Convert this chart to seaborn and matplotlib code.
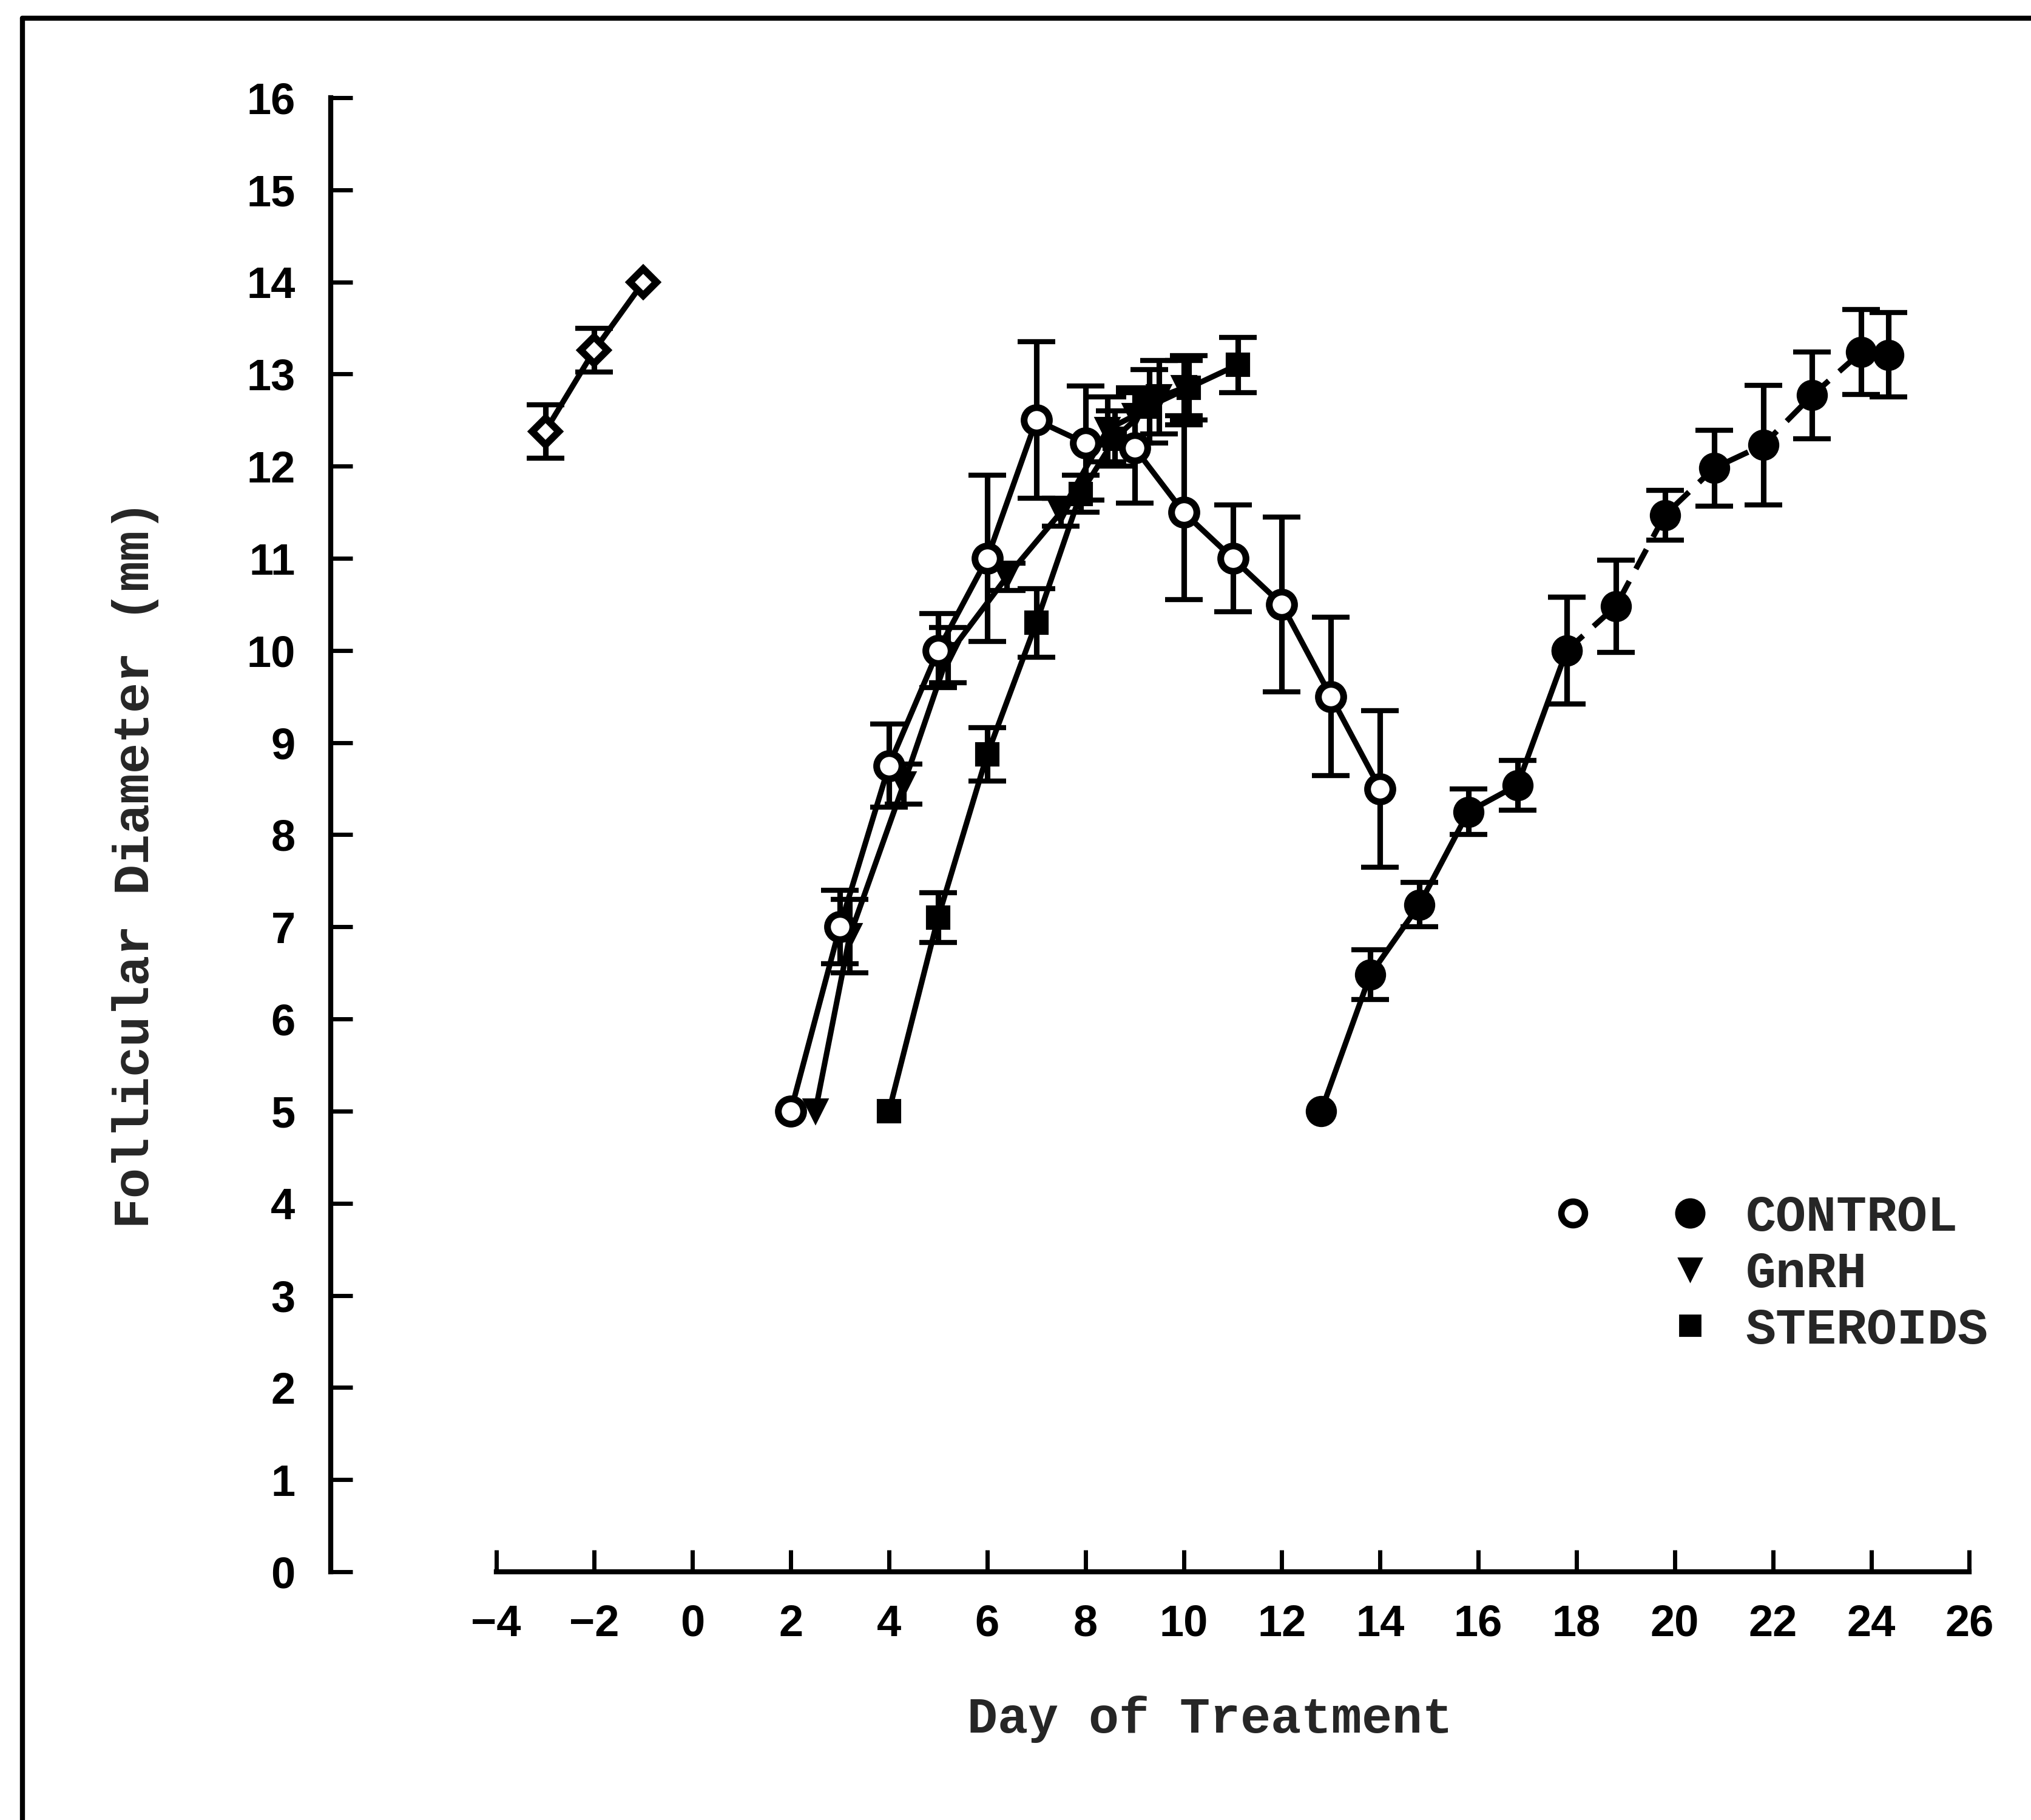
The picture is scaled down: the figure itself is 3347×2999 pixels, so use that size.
import numpy as np
import pandas as pd
import matplotlib
matplotlib.use("Agg")
import matplotlib.pyplot as plt
import seaborn as sns
from matplotlib.lines import Line2D
from matplotlib.legend_handler import HandlerTuple

# --- data (day of treatment, follicle diameter mm, +/- error) ---
pre_day = [-3, -2, -1]
pre_mm = [12.38, 13.26, 14.0]
pre_err = [0.29, 0.24, 0.0]

ctrl1_day = [2, 3, 4, 5, 6, 7, 8, 9, 10, 11, 12, 13, 14]
ctrl1_mm = [5.0, 7.0, 8.75, 10.0, 11.0, 12.5, 12.25, 12.2, 11.5, 11.0, 10.5, 9.5, 8.5]
ctrl1_err = [0.0, 0.4, 0.45, 0.4, 0.9, 0.85, 0.62, 0.6, 0.95, 0.58, 0.95, 0.86, 0.85]

gnrh_day = [2.5, 3.2, 4.3, 5.2, 6.4, 7.5, 8.45, 9.0, 9.5, 10.0]
gnrh_mm = [5.0, 6.9, 8.55, 9.95, 10.8, 11.5, 12.4, 12.55, 12.75, 12.85]
gnrh_err = [0.0, 0.4, 0.22, 0.3, 0.15, 0.15, 0.35, 0.3, 0.4, 0.3]

ster_day = [4, 5, 6, 7, 7.9, 8.6, 9.3, 10.1, 11.1]
ster_mm = [5.0, 7.1, 8.87, 10.3, 11.7, 12.3, 12.65, 12.85, 13.1]
ster_err = [0.0, 0.27, 0.29, 0.37, 0.2, 0.3, 0.4, 0.35, 0.3]

ctrl2_day = [12.8, 13.8, 14.8, 15.8, 16.8, 17.8, 18.8, 19.8, 20.8, 21.8, 22.8, 23.8, 24.35]
ctrl2_mm = [5.0, 6.48, 7.24, 8.25, 8.54, 10.0, 10.48, 11.47, 11.98, 12.23, 12.77, 13.24, 13.21]
ctrl2_err = [0.0, 0.27, 0.24, 0.25, 0.27, 0.58, 0.5, 0.27, 0.41, 0.65, 0.47, 0.46, 0.46]

x_ticks = list(range(-4, 27, 2))
y_ticks = list(range(0, 17))

sns.set_theme(style="white")
plt.rcParams["font.family"] = ["Liberation Sans", "DejaVu Sans"]
plt.rcParams["axes.unicode_minus"] = True

LABEL_FONT = dict(family=["Liberation Mono", "DejaVu Sans Mono"], weight="bold", size=30)
LW = 3.3

fig = plt.figure(figsize=(16.735, 14.995), dpi=200)
ax = fig.add_axes([0.1628, 0.1364, 0.8141, 0.8099])

err_kw = dict(fmt="none", ecolor="black", elinewidth=3.3, capsize=11, capthick=3, zorder=1.5)


def draw(days, vals, errs, marker, ms, mfc, mew, ls="-"):
    df = pd.DataFrame({"day": days, "mm": vals})
    sns.lineplot(data=df, x="day", y="mm", ax=ax, sort=False, estimator=None,
                 color="black", linewidth=LW, linestyle=ls, marker=marker,
                 markersize=ms, markerfacecolor=mfc, markeredgecolor="black",
                 markeredgewidth=mew, zorder=3)
    e = np.array(errs)
    keep = e > 0
    ax.errorbar(np.array(days)[keep], np.array(vals)[keep], yerr=e[keep], **err_kw)


draw(pre_day, pre_mm, pre_err, "D", 11, "white", 4.2)
draw(ster_day, ster_mm, ster_err, "s", 13, "black", 1.5)
draw(gnrh_day, gnrh_mm, gnrh_err, "v", 14, "black", 1.5)
draw(ctrl1_day, ctrl1_mm, ctrl1_err, "o", 15, "white", 4)
# second control wave: solid then broken line
draw(ctrl2_day[:6], ctrl2_mm[:6], ctrl2_err[:6], "o", 17, "black", 1.5)
draw(ctrl2_day[5:], ctrl2_mm[5:], ctrl2_err[5:], "o", 17, "black", 1.5, ls=(0, (4, 2.5)))

ax.set_xlim(-7.37, 26.3)
ax.set_ylim(0, 16)
ax.set_xticks(x_ticks)
ax.set_yticks(y_ticks)
ax.set_xticklabels([f"{t:d}".replace("-", "\u2212") for t in x_ticks])

for side in ["top", "right"]:
    ax.spines[side].set_visible(False)
for side in ["left", "bottom"]:
    ax.spines[side].set_linewidth(3)
    ax.spines[side].set_color("black")
ax.spines["bottom"].set_bounds(-4, 26)

ax.tick_params(axis="both", direction="in", length=13, width=2.5, color="black",
               labelsize=26, labelcolor="black", bottom=True, left=True)
ax.tick_params(axis="x", pad=19)
ax.tick_params(axis="y", pad=21)
for lab in ax.get_xticklabels() + ax.get_yticklabels():
    lab.set_fontweight("bold")

ax.set_xlabel("Day of Treatment", labelpad=30, **LABEL_FONT)
ax.set_ylabel("Follicular Diameter (mm)", labelpad=52, **LABEL_FONT)
ax.xaxis.label.set_x(0.532)
ax.yaxis.label.set_y(0.48)
ax.grid(False)

# legend: open + filled circle share the CONTROL entry
h_open = Line2D([], [], ls="none", marker="o", ms=14, mfc="white", mec="black", mew=3.8)
h_fill = Line2D([], [], ls="none", marker="o", ms=17, mfc="black", mec="black")
h_blank = Line2D([], [], ls="none", marker="none")
h_tri = Line2D([], [], ls="none", marker="v", ms=14, mfc="black", mec="black")
h_sq = Line2D([], [], ls="none", marker="s", ms=12, mfc="black", mec="black")
leg = ax.legend([(h_open, h_fill), (h_blank, h_tri), (h_blank, h_sq)],
                ["CONTROL", "GnRH", "STEROIDS"],
                handler_map={tuple: HandlerTuple(ndivide=None, pad=1.716)},
                loc="upper left", bbox_to_anchor=(0.7545, 0.358),
                bbox_transform=fig.transFigure, frameon=False, borderpad=0,
                handlelength=2.916, handletextpad=0.8, labelspacing=0.18,
                prop=dict(family=["Liberation Mono", "DejaVu Sans Mono"], weight="bold", size=30))

# scanned page frame (left and top edges)
fig.add_artist(Line2D([0.011, 0.011], [0.0, 0.99], transform=fig.transFigure, color="black", lw=3))
fig.add_artist(Line2D([0.011, 1.0], [0.99, 0.99], transform=fig.transFigure, color="black", lw=3))

fig.savefig("out.png", dpi=200, facecolor="white")
